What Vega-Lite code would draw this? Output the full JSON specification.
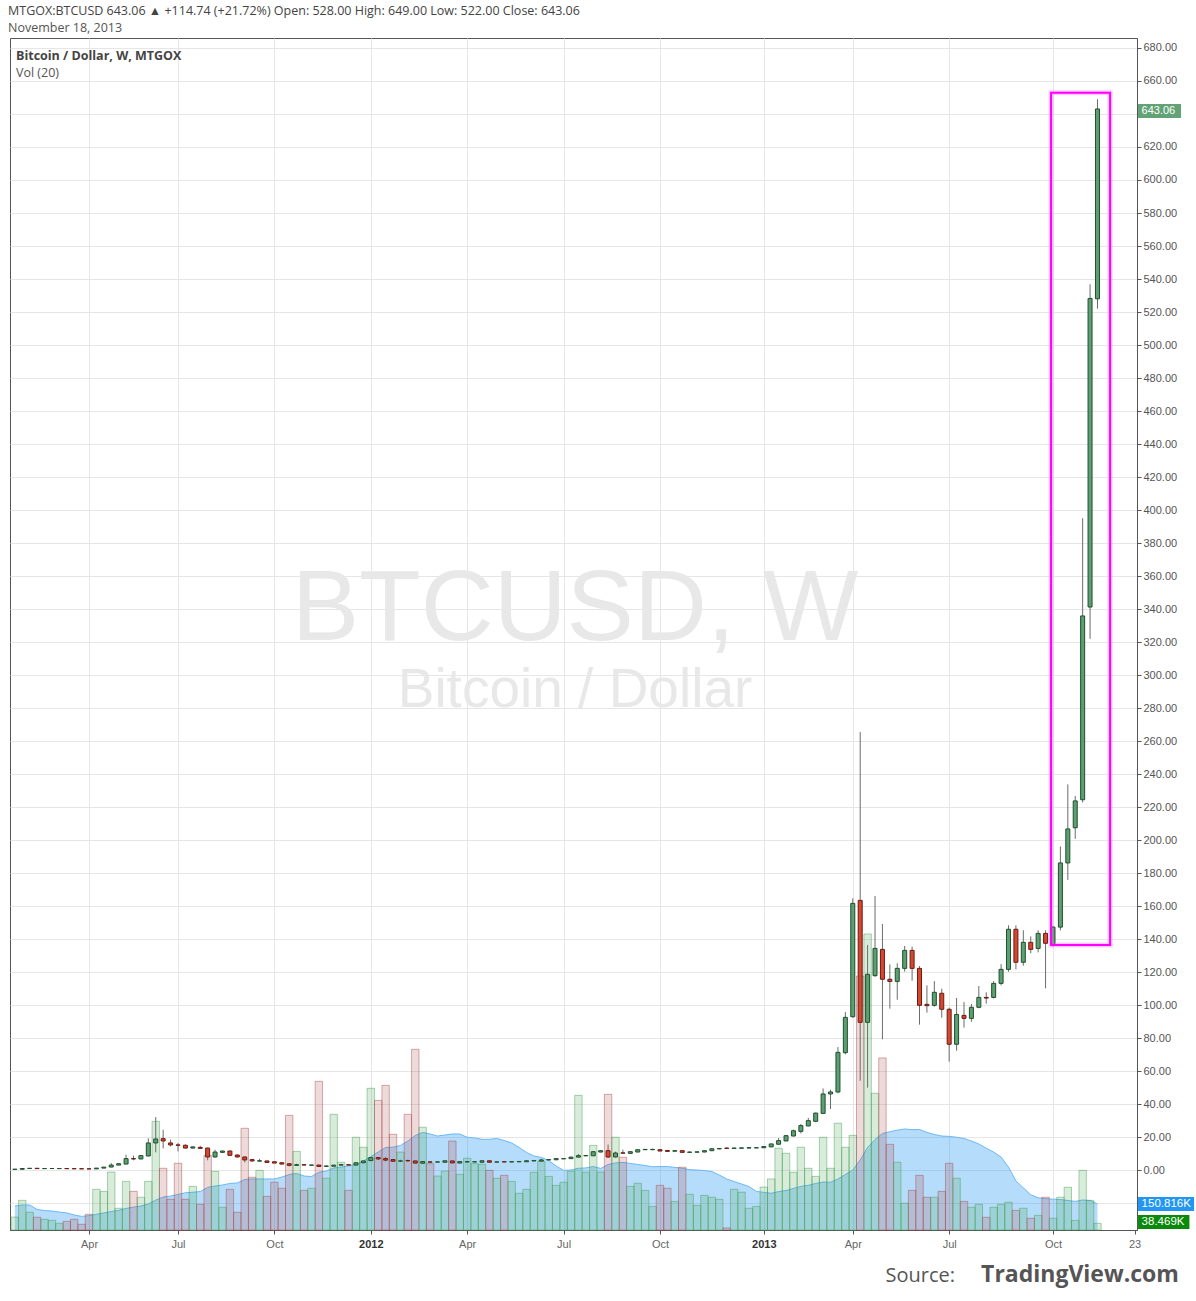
{
"$schema":"https://vega.github.io/schema/vega-lite/v6.json",
"width":1127,"height":1192,
"autosize":{"type":"none"},
"padding":{"left":10,"top":38,"right":59,"bottom":71},
"background":"#ffffff",
"config":{"view":{"stroke":"#555555","strokeWidth":1},"font":"Liberation Sans","axis":{"labelOverlap":false,"labelFlush":false},"scale":{"continuousPadding":0}},
"title":{"text":"MTGOX:BTCUSD 643.06 ▲ +114.74 (+21.72%)  Open: 528.00  High: 649.00  Low: 522.00  Close: 643.06","subtitle":"November 18, 2013","anchor":"start","frame":"group","orient":"top","offset":4,"dx":-2,"font":"Open Sans","fontSize":12.5,"fontWeight":"normal","color":"#444444","subtitleFont":"Open Sans","subtitleFontSize":12.5,"subtitleColor":"#555555","subtitlePadding":4},
"datasets":{"w":[
{"i":1,"o":0.42,"h":0.48,"l":0.40,"c":0.45,"v":75,"m":139},
{"i":2,"o":0.45,"h":0.95,"l":0.44,"c":0.90,"v":172,"m":145},
{"i":3,"o":0.90,"h":1.10,"l":0.85,"c":1.05,"v":103,"m":145},
{"i":4,"o":1.05,"h":1.10,"l":0.80,"c":0.85,"v":74,"m":119},
{"i":5,"o":0.85,"h":0.95,"l":0.82,"c":0.90,"v":62,"m":113},
{"i":6,"o":0.90,"h":0.95,"l":0.85,"c":0.91,"v":56,"m":110},
{"i":7,"o":0.88,"h":0.92,"l":0.80,"c":0.89,"v":39,"m":104},
{"i":8,"o":0.89,"h":0.90,"l":0.78,"c":0.80,"v":50,"m":99},
{"i":9,"o":0.80,"h":0.82,"l":0.75,"c":0.77,"v":62,"m":87},
{"i":10,"o":0.77,"h":0.80,"l":0.68,"c":0.70,"v":33,"m":79},
{"i":11,"o":0.70,"h":0.80,"l":0.65,"c":0.68,"v":91,"m":83},
{"i":12,"o":0.68,"h":1.20,"l":0.67,"c":1.15,"v":236,"m":91},
{"i":13,"o":1.15,"h":1.85,"l":1.10,"c":1.75,"v":224,"m":99},
{"i":14,"o":1.80,"h":4.2,"l":1.7,"c":3.0,"v":336,"m":107},
{"i":15,"o":3.0,"h":3.9,"l":2.9,"c":3.8,"v":126,"m":114},
{"i":16,"o":3.6,"h":9.3,"l":3.5,"c":6.9,"v":282,"m":125},
{"i":17,"o":6.9,"h":8.7,"l":5.9,"c":6.7,"v":224,"m":133},
{"i":18,"o":6.7,"h":9.0,"l":6.5,"c":8.7,"v":190,"m":139},
{"i":19,"o":8.5,"h":19.2,"l":8.3,"c":16.4,"v":282,"m":151},
{"i":20,"o":16.4,"h":32.1,"l":10.7,"c":18.8,"v":630,"m":174},
{"i":21,"o":19.0,"h":24.4,"l":13.1,"c":17.6,"v":358,"m":191},
{"i":22,"o":16.4,"h":18.4,"l":14.3,"c":15.2,"v":178,"m":197},
{"i":23,"o":15.2,"h":16.4,"l":11.3,"c":15.0,"v":387,"m":206},
{"i":24,"o":15.0,"h":15.5,"l":13.0,"c":13.3,"v":178,"m":216},
{"i":25,"o":13.3,"h":14.2,"l":13.0,"c":14.0,"v":253,"m":219},
{"i":26,"o":13.7,"h":14.7,"l":13.0,"c":13.1,"v":149,"m":223},
{"i":27,"o":13.3,"h":13.6,"l":5.9,"c":7.9,"v":433,"m":247},
{"i":28,"o":7.9,"h":12.3,"l":7.5,"c":10.9,"v":340,"m":255},
{"i":29,"o":10.7,"h":11.8,"l":10.4,"c":11.5,"v":132,"m":261},
{"i":30,"o":11.5,"h":11.8,"l":8.5,"c":8.9,"v":236,"m":270},
{"i":31,"o":9.1,"h":9.5,"l":7.6,"c":7.9,"v":103,"m":273},
{"i":32,"o":7.9,"h":8.2,"l":4.6,"c":6.1,"v":590,"m":293},
{"i":33,"o":6.3,"h":6.4,"l":5.0,"c":5.5,"v":306,"m":296},
{"i":34,"o":5.4,"h":6.7,"l":5.0,"c":5.6,"v":346,"m":296},
{"i":35,"o":5.5,"h":5.6,"l":4.5,"c":4.6,"v":195,"m":296},
{"i":36,"o":5.0,"h":5.1,"l":4.1,"c":4.2,"v":277,"m":296},
{"i":37,"o":4.4,"h":4.6,"l":3.5,"c":3.6,"v":242,"m":307},
{"i":38,"o":3.8,"h":4.0,"l":2.2,"c":2.8,"v":665,"m":322},
{"i":39,"o":2.8,"h":3.8,"l":2.7,"c":3.2,"v":456,"m":328},
{"i":40,"o":3.2,"h":3.3,"l":2.9,"c":3.0,"v":230,"m":313},
{"i":41,"o":2.9,"h":3.1,"l":2.8,"c":3.05,"v":242,"m":310},
{"i":42,"o":3.0,"h":3.1,"l":2.0,"c":2.2,"v":862,"m":335},
{"i":43,"o":2.2,"h":2.6,"l":2.1,"c":2.45,"v":300,"m":342},
{"i":44,"o":2.3,"h":3.0,"l":2.2,"c":2.95,"v":671,"m":360},
{"i":45,"o":2.95,"h":3.7,"l":2.8,"c":3.2,"v":393,"m":365},
{"i":46,"o":3.2,"h":3.3,"l":2.9,"c":3.0,"v":230,"m":371},
{"i":47,"o":3.0,"h":4.5,"l":2.9,"c":4.4,"v":538,"m":380},
{"i":48,"o":4.4,"h":5.6,"l":4.2,"c":5.5,"v":480,"m":400},
{"i":49,"o":5.7,"h":7.6,"l":5.4,"c":7.5,"v":822,"m":426},
{"i":50,"o":7.5,"h":7.6,"l":6.2,"c":6.7,"v":752,"m":452},
{"i":51,"o":6.9,"h":7.9,"l":5.3,"c":6.0,"v":839,"m":479},
{"i":52,"o":6.3,"h":6.5,"l":5.2,"c":5.3,"v":555,"m":480},
{"i":53,"o":5.4,"h":6.2,"l":5.2,"c":5.5,"v":452,"m":490},
{"i":54,"o":5.7,"h":6.3,"l":5.1,"c":5.6,"v":671,"m":516},
{"i":55,"o":5.5,"h":5.6,"l":4.0,"c":4.2,"v":1048,"m":548},
{"i":56,"o":4.1,"h":5.2,"l":4.0,"c":5.1,"v":596,"m":566},
{"i":57,"o":4.9,"h":5.1,"l":4.6,"c":4.8,"v":385,"m":557},
{"i":58,"o":4.8,"h":5.0,"l":4.7,"c":4.9,"v":313,"m":545},
{"i":59,"o":4.7,"h":5.8,"l":4.6,"c":5.6,"v":342,"m":551},
{"i":60,"o":5.5,"h":5.6,"l":4.1,"c":4.3,"v":516,"m":557},
{"i":61,"o":4.2,"h":5.2,"l":4.1,"c":5.1,"v":323,"m":557},
{"i":62,"o":4.9,"h":5.1,"l":4.7,"c":5.0,"v":416,"m":538},
{"i":63,"o":4.9,"h":5.1,"l":4.7,"c":5.0,"v":385,"m":534},
{"i":64,"o":4.7,"h":5.8,"l":4.6,"c":5.6,"v":381,"m":526},
{"i":65,"o":5.6,"h":5.7,"l":4.6,"c":4.7,"v":346,"m":526},
{"i":66,"o":4.8,"h":5.0,"l":4.7,"c":4.9,"v":300,"m":531},
{"i":67,"o":5.0,"h":5.1,"l":4.8,"c":4.9,"v":317,"m":519},
{"i":68,"o":4.9,"h":5.1,"l":4.8,"c":5.0,"v":282,"m":505},
{"i":69,"o":5.0,"h":5.2,"l":4.9,"c":5.1,"v":213,"m":479},
{"i":70,"o":5.0,"h":5.8,"l":4.9,"c":5.6,"v":236,"m":450},
{"i":71,"o":5.5,"h":5.8,"l":5.4,"c":5.7,"v":335,"m":429},
{"i":72,"o":5.4,"h":6.8,"l":5.3,"c":6.1,"v":398,"m":421},
{"i":73,"o":6.1,"h":6.4,"l":6.0,"c":6.3,"v":311,"m":403},
{"i":74,"o":6.2,"h":7.0,"l":6.1,"c":6.9,"v":259,"m":371},
{"i":75,"o":6.8,"h":7.0,"l":6.6,"c":6.9,"v":277,"m":346},
{"i":76,"o":6.9,"h":8.0,"l":6.8,"c":7.8,"v":340,"m":348},
{"i":77,"o":7.8,"h":9.7,"l":7.7,"c":8.7,"v":781,"m":358},
{"i":78,"o":8.6,"h":9.0,"l":8.4,"c":8.8,"v":335,"m":360},
{"i":79,"o":8.6,"h":11.3,"l":8.5,"c":11.1,"v":491,"m":368},
{"i":80,"o":10.9,"h":11.9,"l":10.7,"c":11.7,"v":336,"m":357},
{"i":81,"o":11.7,"h":15.4,"l":7.3,"c":7.9,"v":787,"m":380},
{"i":82,"o":7.9,"h":11.1,"l":7.6,"c":10.3,"v":538,"m":389},
{"i":83,"o":10.4,"h":12.3,"l":10.1,"c":10.2,"v":422,"m":392},
{"i":84,"o":10.1,"h":11.3,"l":10.0,"c":11.1,"v":253,"m":386},
{"i":85,"o":10.9,"h":12.4,"l":10.8,"c":12.3,"v":271,"m":380},
{"i":86,"o":12.3,"h":12.6,"l":12.1,"c":12.5,"v":230,"m":374},
{"i":87,"o":12.3,"h":12.9,"l":12.2,"c":12.5,"v":137,"m":367},
{"i":88,"o":12.3,"h":12.5,"l":11.4,"c":11.5,"v":259,"m":368},
{"i":89,"o":11.8,"h":12.0,"l":11.2,"c":11.3,"v":242,"m":368},
{"i":90,"o":11.4,"h":11.9,"l":11.2,"c":11.7,"v":166,"m":363},
{"i":91,"o":11.7,"h":11.8,"l":10.4,"c":10.7,"v":364,"m":358},
{"i":92,"o":10.7,"h":11.1,"l":10.5,"c":10.9,"v":207,"m":350},
{"i":93,"o":10.8,"h":11.1,"l":10.6,"c":11.0,"v":143,"m":348},
{"i":94,"o":10.9,"h":11.9,"l":10.8,"c":11.7,"v":201,"m":345},
{"i":95,"o":11.7,"h":13.0,"l":11.6,"c":12.9,"v":190,"m":339},
{"i":96,"o":12.8,"h":13.3,"l":12.6,"c":13.0,"v":178,"m":319},
{"i":97,"o":13.3,"h":13.6,"l":12.8,"c":13.1,"v":12,"m":296},
{"i":98,"o":13.1,"h":13.5,"l":13.0,"c":13.3,"v":236,"m":281},
{"i":99,"o":13.2,"h":13.5,"l":13.1,"c":13.4,"v":219,"m":267},
{"i":100,"o":13.3,"h":13.6,"l":13.2,"c":13.5,"v":126,"m":252},
{"i":101,"o":13.4,"h":13.7,"l":13.3,"c":13.5,"v":137,"m":224},
{"i":102,"o":13.5,"h":14.4,"l":13.3,"c":14.2,"v":249,"m":218},
{"i":103,"o":14.0,"h":15.9,"l":13.9,"c":15.8,"v":296,"m":213},
{"i":104,"o":15.6,"h":19.4,"l":15.5,"c":17.8,"v":474,"m":223},
{"i":105,"o":17.6,"h":21.0,"l":17.5,"c":20.8,"v":445,"m":229},
{"i":106,"o":20.6,"h":24.5,"l":20.4,"c":23.8,"v":335,"m":241},
{"i":107,"o":23.4,"h":27.9,"l":22.2,"c":26.9,"v":480,"m":253},
{"i":108,"o":26.7,"h":31.6,"l":26.5,"c":29.9,"v":358,"m":259},
{"i":109,"o":29.5,"h":34.8,"l":29.3,"c":34.5,"v":311,"m":270},
{"i":110,"o":34.3,"h":49.4,"l":34.0,"c":46.1,"v":538,"m":278},
{"i":111,"o":46.1,"h":48.7,"l":37.0,"c":47.3,"v":358,"m":277},
{"i":112,"o":47.3,"h":74.5,"l":46.5,"c":71.3,"v":619,"m":296},
{"i":113,"o":71.1,"h":95.7,"l":70.1,"c":92.5,"v":480,"m":322},
{"i":114,"o":92.9,"h":164.6,"l":92.3,"c":161.6,"v":549,"m":348},
{"i":115,"o":163.4,"h":265.4,"l":54.1,"c":89.5,"v":1473,"m":406},
{"i":116,"o":89.5,"h":136.4,"l":49.9,"c":118.6,"v":1717,"m":479},
{"i":117,"o":117.8,"h":166.1,"l":117.0,"c":134.3,"v":793,"m":525},
{"i":118,"o":133.7,"h":149.1,"l":79.2,"c":115.6,"v":998,"m":560},
{"i":119,"o":115.6,"h":124.6,"l":97.8,"c":114.3,"v":497,"m":570},
{"i":120,"o":114.3,"h":125.3,"l":103.2,"c":122.2,"v":393,"m":579},
{"i":121,"o":122.2,"h":135.8,"l":120.2,"c":133.1,"v":155,"m":586},
{"i":122,"o":133.1,"h":135.4,"l":114.7,"c":122.2,"v":230,"m":582},
{"i":123,"o":122.2,"h":123.6,"l":88.1,"c":99.8,"v":317,"m":583},
{"i":124,"o":100.4,"h":111.9,"l":95.4,"c":99.6,"v":190,"m":566},
{"i":125,"o":99.8,"h":114.5,"l":99.0,"c":107.7,"v":190,"m":554},
{"i":126,"o":107.1,"h":109.9,"l":92.3,"c":97.4,"v":224,"m":545},
{"i":127,"o":97.4,"h":98.4,"l":65.7,"c":76.2,"v":387,"m":543},
{"i":128,"o":76.2,"h":104.2,"l":72.3,"c":94.3,"v":300,"m":538},
{"i":129,"o":93.7,"h":101.8,"l":86.3,"c":91.9,"v":166,"m":531},
{"i":130,"o":91.9,"h":100.6,"l":89.9,"c":98.6,"v":132,"m":516},
{"i":131,"o":98.6,"h":111.5,"l":98.0,"c":104.6,"v":149,"m":499},
{"i":132,"o":104.6,"h":107.7,"l":100.8,"c":104.2,"v":74,"m":474},
{"i":133,"o":104.6,"h":114.5,"l":104.0,"c":113.1,"v":132,"m":452},
{"i":134,"o":113.1,"h":124.8,"l":111.9,"c":121.6,"v":149,"m":423},
{"i":135,"o":121.6,"h":148.3,"l":120.2,"c":145.9,"v":161,"m":365},
{"i":136,"o":145.9,"h":148.3,"l":121.6,"c":125.9,"v":114,"m":284},
{"i":137,"o":125.9,"h":145.3,"l":123.8,"c":138.0,"v":126,"m":245},
{"i":138,"o":138.0,"h":141.6,"l":131.3,"c":133.7,"v":68,"m":204},
{"i":139,"o":134.3,"h":145.3,"l":131.9,"c":143.4,"v":85,"m":187},
{"i":140,"o":143.4,"h":145.3,"l":110.1,"c":137.4,"v":190,"m":182},
{"i":141,"o":136.8,"h":148.0,"l":135.5,"c":147.2,"v":68,"m":179},
{"i":142,"o":147.2,"h":196.1,"l":145.2,"c":186.1,"v":190,"m":177},
{"i":143,"o":186.1,"h":233.7,"l":175.8,"c":206.7,"v":248,"m":171},
{"i":144,"o":207.4,"h":226.7,"l":200.7,"c":223.7,"v":56,"m":166},
{"i":145,"o":224.4,"h":395.0,"l":222.7,"c":335.8,"v":346,"m":174},
{"i":146,"o":341.2,"h":536.8,"l":321.9,"c":528.2,"v":172,"m":171},
{"i":147,"o":528.0,"h":649.0,"l":522.0,"c":643.06,"v":38.469,"m":150.816}
]},
"resolve":{"scale":{"y":"independent"}},
"layer":[
{"data":{"name":"w"},
 "layer":[
  {"mark":{"type":"area","color":"#2196f3","opacity":0.33,"line":{"color":"#6ab8f7","strokeWidth":1,"opacity":1}},
   "encoding":{"x":{"field":"i","type":"quantitative","title":null,"scale":{"domain":[0.346,152.33],"nice":false,"zero":false,"padding":0}},
     "y":{"field":"m","type":"quantitative","title":null,"scale":{"domain":[0,6914],"nice":false,"zero":true,"padding":0},"axis":null}}},
  {"mark":{"type":"bar","width":7.4,"fillOpacity":0.2,"strokeOpacity":0.45,"strokeWidth":1},
   "encoding":{"x":{"field":"i","type":"quantitative","title":null,"scale":{"domain":[0.346,152.33],"nice":false,"zero":false,"padding":0}},
     "y":{"field":"v","type":"quantitative","title":null,"scale":{"domain":[0,6914],"nice":false,"zero":true,"padding":0},"axis":null},
     "y2":{"datum":0},
     "fill":{"condition":{"test":"datum.c >= datum.o","value":"#3f9f4d"},"value":"#a84848"},
     "stroke":{"condition":{"test":"datum.c >= datum.o","value":"#3f9f4d"},"value":"#a84848"}}},
  {"data":{"values":[{}]},"mark":{"type":"rect","fill":"#2196f3"},
   "encoding":{"x":{"datum":152.47},"x2":{"datum":160.03},"y":{"datum":110.2},"y2":{"datum":191.4}}},
  {"data":{"values":[{}]},"mark":{"type":"text","text":"150.816K","color":"#ffffff","fontSize":11.5,"align":"left","baseline":"middle","font":"Liberation Sans"},
   "encoding":{"x":{"datum":152.95},"y":{"datum":150.8}}},
  {"data":{"values":[{}]},"mark":{"type":"rect","fill":"#0a8a0a"},
   "encoding":{"x":{"datum":152.47},"x2":{"datum":159.4},"y":{"datum":5.8},"y2":{"datum":87}}},
  {"data":{"values":[{}]},"mark":{"type":"text","text":"38.469K","color":"#ffffff","fontSize":11.5,"align":"left","baseline":"middle","font":"Liberation Sans"},
   "encoding":{"x":{"datum":152.95},"y":{"datum":46}}}
 ]},
{"data":{"name":"w"},
 "layer":[
  {"data":{"values":[{}]},"mark":{"type":"text","text":"BTCUSD, W","font":"Liberation Sans","fontSize":101,"color":"#e8e8e8","align":"center","baseline":"alphabetic"},
   "encoding":{"x":{"datum":76.54},"y":{"datum":321.2}}},
  {"data":{"values":[{}]},"mark":{"type":"text","text":"Bitcoin / Dollar","font":"Liberation Sans","fontSize":55,"color":"#e8e8e8","align":"center","baseline":"alphabetic"},
   "encoding":{"x":{"datum":76.54},"y":{"datum":280.6}}},
  {"mark":{"type":"rule","color":"#6b6b6b","strokeWidth":1},
   "encoding":{"x":{"field":"i","type":"quantitative","title":null,"scale":{"domain":[0.346,152.33],"nice":false,"zero":false,"padding":0},
       "axis":{"values":[11,23,36,49,62,75,88,102,114,127,141,152],"tickCount":40,
         "labelExpr":"['Apr','Jul','Oct','2012','Apr','Jul','Oct','2013','Apr','Jul','Oct','23'][indexof([11,23,36,49,62,75,88,102,114,127,141,152], datum.value)]",
         "grid":true,"gridColor":{"condition":{"test":"datum.value > 150","value":"rgba(0,0,0,0)"},"value":"#e6e6e6"},
         "domainColor":"#555555","tickColor":"#555555","tickSize":4,
         "labelColor":{"condition":{"test":"datum.value == 49 || datum.value == 102","value":"#333333"},"value":"#666666"},
         "labelFontWeight":{"condition":{"test":"datum.value == 49 || datum.value == 102","value":"bold"},"value":"normal"},
         "labelFontSize":11,"labelFont":"Liberation Sans","labelPadding":4,"labelFlush":false,"labelOverlap":false,"title":null}},
     "y":{"field":"l","type":"quantitative","title":null,"scale":{"domain":[-36.36,686.06],"nice":false,"zero":false,"padding":0},
       "axis":{"orient":"right","values":[-20,0,20,40,60,80,100,120,140,160,180,200,220,240,260,280,300,320,340,360,380,400,420,440,460,480,500,520,540,560,580,600,620,640,660,680],"tickCount":60,
         "labelExpr":"(datum.value < 0 || datum.value == 640) ? '' : format(datum.value, '.2f')",
         "grid":true,"gridColor":"#e6e6e6","domainColor":"#555555","tickColor":"#555555","tickSize":4,
         "labelColor":"#555555","labelFontSize":11,"labelFont":"Liberation Sans","labelPadding":2,"labelOverlap":false,"labelFlush":false,"title":null}},
     "y2":{"field":"h"}}},
  {"mark":{"type":"bar","width":4,"strokeWidth":1},
   "encoding":{"x":{"field":"i","type":"quantitative","title":null,"scale":{"domain":[0.346,152.33],"nice":false,"zero":false,"padding":0}},
     "y":{"field":"o","type":"quantitative","title":null,"scale":{"domain":[-36.36,686.06],"nice":false,"zero":false,"padding":0}},
     "y2":{"field":"c"},
     "fill":{"condition":{"test":"datum.c >= datum.o","value":"#5e9f72"},"value":"#d6472f"},
     "stroke":{"condition":{"test":"datum.c >= datum.o","value":"#1f4f2e"},"value":"#6b1b12"}}},
  {"data":{"values":[{}]},"mark":{"type":"rect","filled":false,"stroke":"#ff66ff","strokeWidth":5,"strokeOpacity":0.35},
   "encoding":{"x":{"datum":140.74},"x2":{"datum":148.7},"y":{"datum":136.4},"y2":{"datum":652.9}}},
  {"data":{"values":[{}]},"mark":{"type":"rect","filled":false,"stroke":"#ff00ff","strokeWidth":2},
   "encoding":{"x":{"datum":140.74},"x2":{"datum":148.7},"y":{"datum":136.4},"y2":{"datum":652.9}}},
  {"data":{"values":[{}]},"mark":{"type":"text","text":"Bitcoin / Dollar, W, MTGOX","font":"Open Sans","fontSize":12.5,"fontWeight":"bold","color":"#444444","align":"left","baseline":"alphabetic"},
   "encoding":{"x":{"datum":1.155},"y":{"datum":673.0}}},
  {"data":{"values":[{}]},"mark":{"type":"text","text":"Vol (20)","font":"Open Sans","fontSize":12.5,"color":"#555555","align":"left","baseline":"alphabetic"},
   "encoding":{"x":{"datum":1.155},"y":{"datum":662.7}}},
  {"data":{"values":[{}]},"mark":{"type":"rect","fill":"#62a275"},
   "encoding":{"x":{"datum":152.47},"x2":{"datum":158.27},"y":{"datum":637.6},"y2":{"datum":646.1}}},
  {"data":{"values":[{}]},"mark":{"type":"text","text":"643.06","color":"#ffffff","fontSize":11,"align":"left","baseline":"middle","font":"Liberation Sans"},
   "encoding":{"x":{"datum":152.95},"y":{"datum":641.85}}},
  {"data":{"values":[{}]},"mark":{"type":"text","text":"Source:","font":"Open Sans","fontSize":20,"color":"#555555","align":"right","baseline":"alphabetic"},
   "encoding":{"x":{"datum":127.8},"y":{"datum":-67.9}}},
  {"data":{"values":[{}]},"mark":{"type":"text","text":"TradingView.com","font":"Open Sans","fontSize":23,"fontWeight":"bold","color":"#555555","align":"left","baseline":"alphabetic"},
   "encoding":{"x":{"datum":131.3},"y":{"datum":-67.9}}}
 ]}
]
}
